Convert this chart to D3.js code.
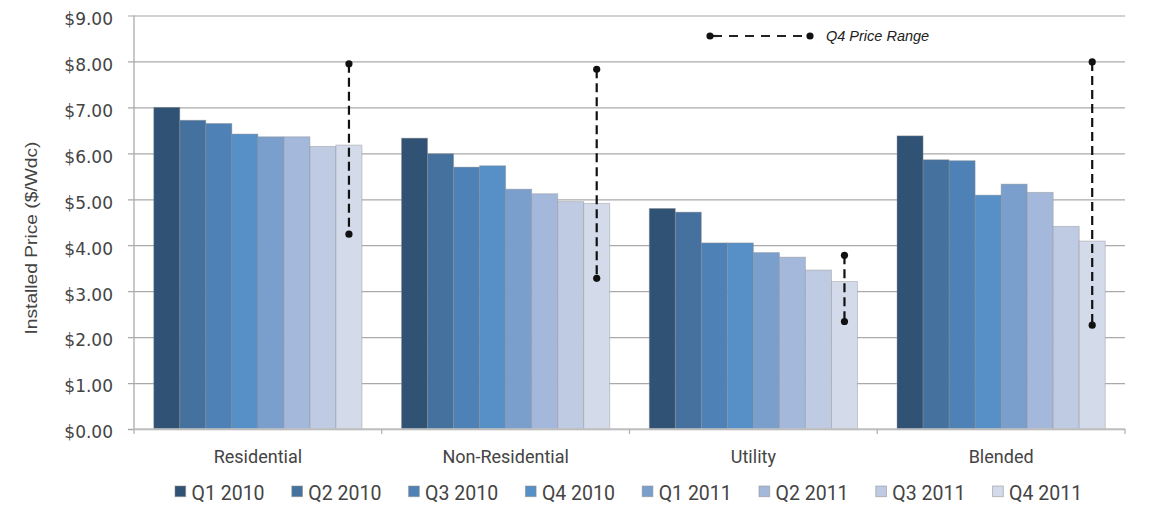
<!DOCTYPE html>
<html>
<head>
<meta charset="utf-8">
<script src="https://cdn.jsdelivr.net/npm/d3@7"></script>
<style>
  html, body { margin: 0; padding: 0; background: #fff; }
  svg { display: block; }
</style>
</head>
<body>
<svg id="chart" width="1151" height="519"></svg>
<script>
// Installed PV price by market segment, quarterly 2010–2011
const categories = ["Residential", "Non-Residential", "Utility", "Blended"];
const quarters = ["Q1 2010", "Q2 2010", "Q3 2010", "Q4 2010", "Q1 2011", "Q2 2011", "Q3 2011", "Q4 2011"];
const residential    = [7.00, 6.72, 6.65, 6.42, 6.36, 6.36, 6.15, 6.18];
const nonResidential = [6.33, 5.99, 5.70, 5.73, 5.22, 5.12, 4.95, 4.91];
const utility        = [4.80, 4.72, 4.05, 4.05, 3.84, 3.74, 3.46, 3.21];
const blended        = [6.38, 5.86, 5.84, 5.09, 5.33, 5.15, 4.41, 4.09];
const q4RangeLow  = [4.24, 3.28, 2.34, 2.26];
const q4RangeHigh = [7.95, 7.83, 3.78, 7.99];
const yTicks = [0, 1, 2, 3, 4, 5, 6, 7, 8, 9];
const colors = ["#2f5275", "#44719e", "#4e82b6", "#5790c6", "#7b9fcd", "#a3b8da", "#bfcbe2", "#d3dbea"];

const seriesByCategory = [residential, nonResidential, utility, blended];
const rows = categories.map((c, i) => ({
  category: c,
  values: quarters.map((q, j) => ({ quarter: q, value: seriesByCategory[i][j] })),
  low: q4RangeLow[i],
  high: q4RangeHigh[i]
}));

const svg = d3.select("#chart");
const plotLeft = 134, plotRight = 1125, plotTop = 15.5, plotBottom = 429;

const y = d3.scaleLinear().domain([0, 9]).range([plotBottom, plotTop]);
const x0 = d3.scaleBand().domain(categories).range([plotLeft, plotRight]).padding(0);
const x1 = d3.scaleBand().domain(quarters).range([0, x0.bandwidth()]).paddingInner(0).paddingOuter(0.76);
const color = d3.scaleOrdinal().domain(quarters).range(colors);

// Horizontal gridlines with outward tick marks
const yAxis = d3.axisLeft(y)
  .tickValues(yTicks)
  .tickSize(-(plotRight - plotLeft))
  .tickFormat(d => "$" + d3.format(".2f")(d));
const gy = svg.append("g").attr("transform", `translate(${plotLeft},0)`).call(yAxis);
gy.select(".domain").remove();
gy.selectAll(".tick line")
  .attr("x1", -6)
  .attr("stroke", d => d === 9 ? "#d2d2d2" : "#aaaaaa")
  .attr("stroke-width", d => d === 9 ? 2 : 1.3);
gy.selectAll(".tick text")
  .attr("x", -21)
  .attr("dy", "0.52em")
  .attr("fill", "#444")
  .style("font-family", "'DejaVu Sans', sans-serif")
  .style("font-size", "17px");

// Vertical axis line
svg.append("line")
  .attr("x1", plotLeft).attr("x2", plotLeft)
  .attr("y1", plotTop).attr("y2", plotBottom)
  .attr("stroke", "#aaaaaa").attr("stroke-width", 1.3);

// Bars
const groups = svg.append("g").selectAll("g")
  .data(rows)
  .join("g")
  .attr("transform", d => `translate(${x0(d.category)},0)`);

groups.selectAll("rect")
  .data(d => d.values)
  .join("rect")
  .attr("x", d => x1(d.quarter))
  .attr("width", x1.bandwidth())
  .attr("y", d => y(d.value))
  .attr("height", d => y(0) - y(d.value))
  .attr("fill", d => color(d.quarter))
  .attr("stroke", "#8c8c8c")
  .attr("stroke-opacity", 0.45)
  .attr("stroke-width", 0.9);

// Category axis along the bottom
const xAxisG = svg.append("g");
xAxisG.append("line")
  .attr("x1", plotLeft).attr("x2", plotRight)
  .attr("y1", plotBottom).attr("y2", plotBottom)
  .attr("stroke", "#c4c4c4").attr("stroke-width", 1.6);
const boundaries = categories.map(c => x0(c)).concat([x0(categories[categories.length - 1]) + x0.bandwidth()]);
xAxisG.selectAll("line.tick")
  .data(boundaries)
  .join("line")
  .attr("class", "tick")
  .attr("x1", d => d).attr("x2", d => d)
  .attr("y1", plotBottom).attr("y2", plotBottom + 5)
  .attr("stroke", "#b4b4b4").attr("stroke-width", 1.3);
xAxisG.selectAll("text")
  .data(categories)
  .join("text")
  .attr("x", d => x0(d) + x0.bandwidth() / 2)
  .attr("y", 463)
  .attr("text-anchor", "middle")
  .attr("fill", "#444")
  .style("font-family", "Roboto, sans-serif")
  .style("font-size", "18px")
  .text(d => d);

// Q4 price range markers
const rangeX = d => x0(d.category) + x1("Q4 2011") + x1.bandwidth() / 2;
const ranges = svg.append("g").selectAll("g").data(rows).join("g");
ranges.append("line")
  .attr("x1", rangeX).attr("x2", rangeX)
  .attr("y1", d => y(d.high)).attr("y2", d => y(d.low))
  .attr("stroke", "#111").attr("stroke-width", 2.2)
  .attr("stroke-dasharray", "9,5");
ranges.append("circle").attr("cx", rangeX).attr("cy", d => y(d.high)).attr("r", 3.6).attr("fill", "#111");
ranges.append("circle").attr("cx", rangeX).attr("cy", d => y(d.low)).attr("r", 3.6).attr("fill", "#111");

// Range legend
const rl = svg.append("g");
rl.append("line")
  .attr("x1", 710).attr("x2", 810).attr("y1", 36).attr("y2", 36)
  .attr("stroke", "#222").attr("stroke-width", 2.2)
  .attr("stroke-dasharray", "9,7").attr("stroke-dashoffset", -3);
rl.append("line").attr("x1", 710).attr("x2", 718).attr("y1", 36).attr("y2", 36).attr("stroke", "#222").attr("stroke-width", 2.2);
rl.append("circle").attr("cx", 710).attr("cy", 36).attr("r", 3.6).attr("fill", "#111");
rl.append("circle").attr("cx", 810).attr("cy", 36).attr("r", 3.6).attr("fill", "#111");
rl.append("text")
  .attr("x", 826).attr("y", 41)
  .attr("fill", "#222")
  .style("font-family", "'Liberation Sans', Arial, sans-serif")
  .style("font-style", "italic")
  .style("font-size", "14.5px")
  .text("Q4 Price Range");

// Series legend
const legend = svg.append("g").selectAll("g")
  .data(quarters)
  .join("g")
  .attr("transform", (d, i) => `translate(${175 + i * 116.8},486)`);
legend.append("rect")
  .attr("width", 10.7).attr("height", 10.7)
  .attr("fill", d => color(d))
  .attr("stroke", "#8c8c8c").attr("stroke-opacity", 0.6).attr("stroke-width", 0.9);
legend.append("text")
  .attr("x", 16.5).attr("y", 14)
  .attr("fill", "#444")
  .style("font-family", "Roboto, sans-serif")
  .style("font-size", "19.5px")
  .text(d => d);

// Y axis title
svg.append("text")
  .attr("transform", "translate(37,238) rotate(-90)")
  .attr("text-anchor", "middle")
  .attr("fill", "#444")
  .attr("textLength", 193)
  .attr("lengthAdjust", "spacingAndGlyphs")
  .style("font-family", "'Liberation Sans', Arial, sans-serif")
  .style("font-size", "16px")
  .text("Installed Price ($/Wdc)");
</script>
</body>
</html>
